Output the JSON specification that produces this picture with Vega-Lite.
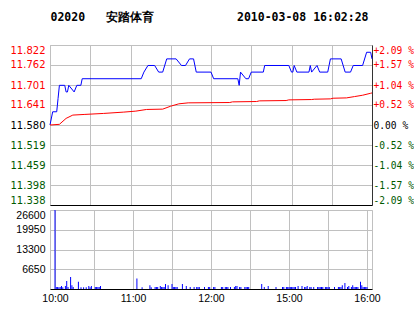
{
  "$schema": "https://vega.github.io/schema/vega-lite/v6.json",
  "padding": {"left": 9, "top": 12, "right": 0, "bottom": 0},
  "background": "white",
  "title": {
    "text": "02020\u00a0\u00a0\u00a0安踏体育\u00a0\u00a0\u00a0\u00a0\u00a0\u00a0\u00a0\u00a0\u00a0\u00a0\u00a0\u00a02010-03-08 16:02:28",
    "font": "DejaVu Sans Mono",
    "fontSize": 11.5,
    "fontWeight": "bold",
    "color": "#000000",
    "anchor": "start",
    "dx": 41,
    "offset": 21
  },
  "spacing": 5,
  "bounds": "flush",
  "config": {
    "view": {"stroke": "#c0c0c0", "strokeWidth": 1},
    "axis": {"gridColor": "#c0c0c0", "gridOpacity": 1, "ticks": false, "title": null}
  },
  "vconcat": [
    {
      "width": 322,
      "height": 160,
      "layer": [
        {
          "data": {"values": [
            {"m": 0, "p": 11.58}, {"m": 2, "p": 11.62}, {"m": 5, "p": 11.62}, {"m": 6, "p": 11.66},
            {"m": 7, "p": 11.70}, {"m": 11, "p": 11.70}, {"m": 12, "p": 11.68}, {"m": 13, "p": 11.68},
            {"m": 14, "p": 11.70}, {"m": 18, "p": 11.68}, {"m": 20, "p": 11.70}, {"m": 23, "p": 11.70},
            {"m": 24, "p": 11.72}, {"m": 68, "p": 11.72}, {"m": 70, "p": 11.74}, {"m": 73, "p": 11.76},
            {"m": 78, "p": 11.76}, {"m": 81, "p": 11.74}, {"m": 84, "p": 11.74}, {"m": 87, "p": 11.78},
            {"m": 94, "p": 11.78}, {"m": 98, "p": 11.76}, {"m": 101, "p": 11.76}, {"m": 104, "p": 11.78},
            {"m": 107, "p": 11.78}, {"m": 109, "p": 11.74}, {"m": 120, "p": 11.74}, {"m": 122, "p": 11.72},
            {"m": 140, "p": 11.72}, {"m": 141, "p": 11.70}, {"m": 142, "p": 11.74}, {"m": 146, "p": 11.72},
            {"m": 148, "p": 11.72}, {"m": 150, "p": 11.74}, {"m": 159, "p": 11.74}, {"m": 160, "p": 11.76},
            {"m": 178, "p": 11.76}, {"m": 180, "p": 11.74}, {"m": 181, "p": 11.74}, {"m": 182, "p": 11.76},
            {"m": 184, "p": 11.74}, {"m": 193, "p": 11.74}, {"m": 194, "p": 11.76}, {"m": 195, "p": 11.74},
            {"m": 199, "p": 11.76}, {"m": 201, "p": 11.74}, {"m": 207, "p": 11.74}, {"m": 208, "p": 11.76},
            {"m": 209, "p": 11.78}, {"m": 217, "p": 11.78}, {"m": 220, "p": 11.74}, {"m": 224, "p": 11.74},
            {"m": 226, "p": 11.76}, {"m": 233, "p": 11.76}, {"m": 236, "p": 11.80}, {"m": 239, "p": 11.80},
            {"m": 240, "p": 11.78}
          ]},
          "mark": {"type": "line", "color": "#0000ff", "strokeWidth": 1},
          "encoding": {
            "x": {"field": "m", "type": "quantitative",
              "scale": {"domain": [0, 240], "nice": false, "zero": false},
              "axis": {"values": [0, 30, 60, 90, 120, 150, 180, 210, 240], "labels": false, "domainColor": "#000000", "grid": true}},
            "y": {"field": "p", "type": "quantitative",
              "scale": {"domain": [11.338, 11.822], "nice": false, "zero": false},
              "axis": {"orient": "left", "values": [11.338, 11.398, 11.459, 11.519, 11.58, 11.641, 11.701, 11.762, 11.822],
                "format": ".3f", "domain": false, "grid": true, "labelFont": "DejaVu Sans", "labelFontSize": 10,
                "labelPadding": 5, "labelFlush": true, "labelFlushOffset": 0,
                "labelColor": {"condition": [{"test": "datum.value > 11.581", "value": "#ff0000"}, {"test": "datum.value < 11.579", "value": "#005a00"}], "value": "#000000"}}}
          }
        },
        {
          "data": {"values": [
            {"m": 0, "a": 11.580}, {"m": 7, "a": 11.582}, {"m": 12, "a": 11.600}, {"m": 17, "a": 11.610},
            {"m": 26, "a": 11.612}, {"m": 40, "a": 11.615}, {"m": 55, "a": 11.619}, {"m": 64, "a": 11.622},
            {"m": 72, "a": 11.627}, {"m": 84, "a": 11.628}, {"m": 90, "a": 11.637}, {"m": 96, "a": 11.644},
            {"m": 103, "a": 11.647}, {"m": 134, "a": 11.648}, {"m": 136, "a": 11.650}, {"m": 154, "a": 11.651},
            {"m": 156, "a": 11.653}, {"m": 176, "a": 11.654}, {"m": 178, "a": 11.656}, {"m": 195, "a": 11.657},
            {"m": 197, "a": 11.658}, {"m": 209, "a": 11.659}, {"m": 211, "a": 11.661}, {"m": 221, "a": 11.662},
            {"m": 227, "a": 11.666}, {"m": 233, "a": 11.670}, {"m": 239, "a": 11.676}, {"m": 240, "a": 11.677}
          ]},
          "mark": {"type": "line", "color": "#ff0000", "strokeWidth": 1},
          "encoding": {
            "x": {"field": "m", "type": "quantitative"},
            "y": {"field": "a", "type": "quantitative",
              "axis": {"orient": "right", "values": [11.338, 11.398, 11.459, 11.519, 11.58, 11.641, 11.701, 11.762, 11.822],
                "labelExpr": "['-2.09 %','-1.57 %','-1.04 %','-0.52 %','\u00a00.00 %','+0.52 %','+1.04 %','+1.57 %','+2.09 %'][round((datum.value-11.338)/0.0605)]",
                "domain": true, "domainColor": "#333333", "grid": false, "labelFont": "DejaVu Sans Mono", "labelFontSize": 9.6,
                "labelPadding": 1, "labelFlush": true, "labelFlushOffset": 0,
                "labelColor": {"condition": [{"test": "datum.value > 11.581", "value": "#ff0000"}, {"test": "datum.value < 11.579", "value": "#005a00"}], "value": "#000000"}}}
          }
        },
        {
          "mark": {"type": "rule", "color": "#000000", "strokeWidth": 1},
          "encoding": {"y": {"datum": 11.58, "axis": null}}
        }
      ],
      "resolve": {"axis": {"y": "independent"}}
    },
    {
      "width": 322,
      "height": 79,
      "data": {"values": [
        {"m": 0, "v": 26600}, {"m": 1, "v": 700}, {"m": 2, "v": 700}, {"m": 3, "v": 600}, {"m": 4, "v": 700},
        {"m": 5, "v": 1000}, {"m": 6, "v": 600}, {"m": 8, "v": 1000}, {"m": 9, "v": 2700}, {"m": 10, "v": 700},
        {"m": 12, "v": 4000}, {"m": 13, "v": 1300}, {"m": 14, "v": 700}, {"m": 18, "v": 2400}, {"m": 20, "v": 600},
        {"m": 22, "v": 600}, {"m": 24, "v": 600}, {"m": 26, "v": 1000}, {"m": 27, "v": 600}, {"m": 28, "v": 1000},
        {"m": 31, "v": 700}, {"m": 32, "v": 700}, {"m": 33, "v": 700}, {"m": 34, "v": 700}, {"m": 35, "v": 1000},
        {"m": 63, "v": 3500}, {"m": 67, "v": 600}, {"m": 73, "v": 1300}, {"m": 74, "v": 600}, {"m": 77, "v": 700},
        {"m": 78, "v": 700}, {"m": 79, "v": 700}, {"m": 81, "v": 1000}, {"m": 82, "v": 700}, {"m": 83, "v": 700},
        {"m": 84, "v": 700}, {"m": 85, "v": 1700}, {"m": 87, "v": 1300}, {"m": 90, "v": 1700}, {"m": 91, "v": 700},
        {"m": 92, "v": 700}, {"m": 93, "v": 700}, {"m": 94, "v": 700}, {"m": 98, "v": 1700}, {"m": 101, "v": 1000},
        {"m": 104, "v": 700}, {"m": 107, "v": 700}, {"m": 109, "v": 700}, {"m": 110, "v": 700}, {"m": 111, "v": 700},
        {"m": 115, "v": 700}, {"m": 118, "v": 700}, {"m": 119, "v": 700}, {"m": 122, "v": 700}, {"m": 123, "v": 700},
        {"m": 128, "v": 700}, {"m": 129, "v": 700}, {"m": 131, "v": 700}, {"m": 132, "v": 700}, {"m": 133, "v": 700},
        {"m": 135, "v": 700}, {"m": 138, "v": 700}, {"m": 139, "v": 1000}, {"m": 140, "v": 1000}, {"m": 142, "v": 700},
        {"m": 143, "v": 700}, {"m": 146, "v": 700}, {"m": 147, "v": 700}, {"m": 148, "v": 700}, {"m": 149, "v": 700},
        {"m": 159, "v": 1700}, {"m": 161, "v": 700}, {"m": 164, "v": 1000}, {"m": 170, "v": 700}, {"m": 175, "v": 700},
        {"m": 176, "v": 700}, {"m": 178, "v": 700}, {"m": 179, "v": 700}, {"m": 180, "v": 700}, {"m": 181, "v": 700},
        {"m": 182, "v": 700}, {"m": 183, "v": 700}, {"m": 184, "v": 700}, {"m": 185, "v": 700}, {"m": 187, "v": 1000},
        {"m": 190, "v": 1000}, {"m": 192, "v": 700}, {"m": 193, "v": 700}, {"m": 194, "v": 1000}, {"m": 196, "v": 700},
        {"m": 197, "v": 700}, {"m": 199, "v": 700}, {"m": 202, "v": 700}, {"m": 203, "v": 700}, {"m": 204, "v": 700},
        {"m": 205, "v": 700}, {"m": 206, "v": 700}, {"m": 208, "v": 700}, {"m": 209, "v": 700}, {"m": 210, "v": 700},
        {"m": 211, "v": 700}, {"m": 215, "v": 700}, {"m": 218, "v": 700}, {"m": 219, "v": 700}, {"m": 220, "v": 700},
        {"m": 221, "v": 1300}, {"m": 223, "v": 2000}, {"m": 225, "v": 700}, {"m": 226, "v": 1000}, {"m": 228, "v": 700},
        {"m": 229, "v": 1300}, {"m": 230, "v": 700}, {"m": 231, "v": 700}, {"m": 232, "v": 700}, {"m": 233, "v": 700},
        {"m": 235, "v": 2400}, {"m": 236, "v": 1300}, {"m": 237, "v": 700}, {"m": 238, "v": 700}, {"m": 239, "v": 700},
        {"m": 240, "v": 700}
      ]},
      "mark": {"type": "bar", "color": "#0000ff", "size": 1},
      "encoding": {
        "x": {"field": "m", "type": "quantitative",
          "scale": {"domain": [0, 240], "nice": false, "zero": false},
          "axis": {"values": [0, 30, 60, 90, 120, 150, 180, 210, 240],
            "labelExpr": "['10:00','','11:00','','12:00','','15:00','','16:00'][round(datum.value/30)]",
            "labelOverlap": false, "labelFlush": false, "labelFont": "Liberation Sans", "labelFontSize": 10.5,
            "labelColor": "#000000", "labelPadding": 4, "domainColor": "#000000", "grid": true}},
        "y": {"field": "v", "type": "quantitative",
          "scale": {"domain": [0, 26600], "nice": false},
          "axis": {"values": [6650, 13300, 19950, 26600], "format": "d", "domain": false, "grid": true,
            "labelFont": "Liberation Sans", "labelFontSize": 10.5, "labelColor": "#000000", "labelPadding": 5,
            "labelFlush": true, "labelFlushOffset": 0}}
      }
    }
  ]
}
